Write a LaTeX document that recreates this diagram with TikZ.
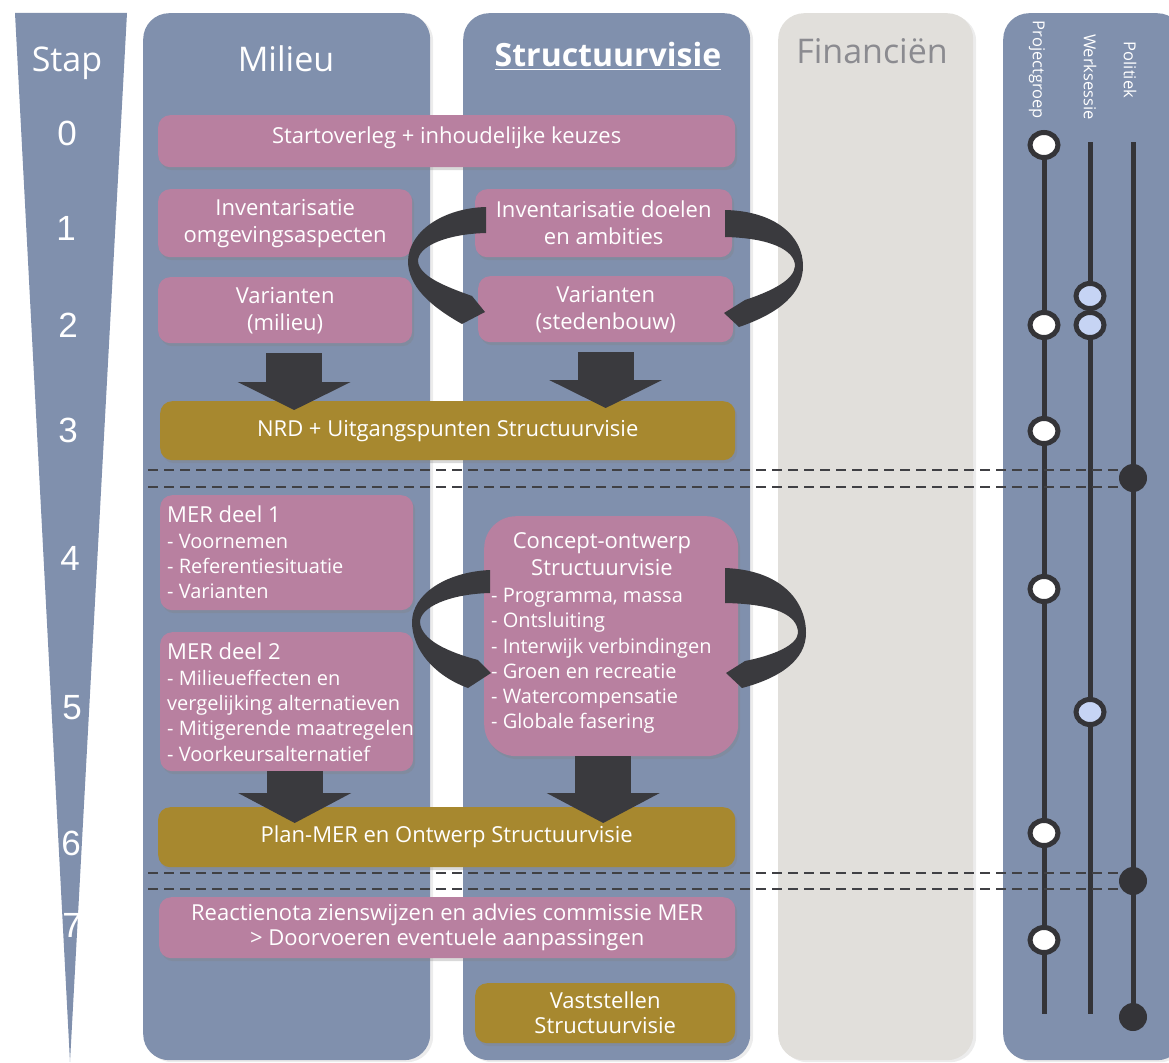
\documentclass[tikz,border=0pt]{standalone}
\usepackage{fontspec}
\setmainfont{Open Sans}
\newfontfamily\numfont{Liberation Sans}
\usetikzlibrary{shadows,shapes.geometric,arrows.meta,calc}
\definecolor{cBlue}{RGB}{128,144,173}
\definecolor{cFin}{RGB}{225,223,219}
\definecolor{cFinText}{RGB}{139,139,144}
\definecolor{cPink}{RGB}{184,128,160}
\definecolor{cGold}{RGB}{167,136,47}
\definecolor{cDark}{RGB}{58,58,62}
\definecolor{cLine}{RGB}{52,52,56}
\definecolor{cLightBlue}{RGB}{198,212,244}
\definecolor{cDash}{RGB}{64,64,68}
\tikzset{
  colbox/.style={fill=#1, rounded corners=26pt, inner sep=0pt, anchor=north west, minimum height=1047pt,
    drop shadow={shadow xshift=3pt, shadow yshift=-2pt, opacity=0.15}},
  coltitle/.style={text=white, font=\fontsize{34}{40}\selectfont, anchor=base, inner sep=0pt},
  stepnum/.style={text=white, font=\numfont\fontsize{35}{40}\selectfont, inner sep=0pt},
  abox/.style={rounded corners=12pt, inner sep=0pt, anchor=north west, text=white, align=center,
    font=\fontsize{22}{27}\selectfont, drop shadow={shadow xshift=2pt, shadow yshift=-3pt, opacity=0.3}},
  pbox/.style={abox, fill=cPink},
  gbox/.style={abox, fill=cGold},
  ltext/.style={text=white, inner sep=0pt, font=\fontsize{20}{25.3}\selectfont, align=left, anchor=north west},
  ctitle/.style={text=white, inner sep=0pt, font=\fontsize{22}{27}\selectfont, align=center, anchor=north},
  blockarrow/.style={draw=cDark, line width=56pt, -{Triangle[width=112pt,length=#1]}},
  ribbon/.style={fill=cDark},
  dashline/.style={draw=cDash, line width=2.2pt, dash pattern=on 10pt off 6pt},
  tline/.style={draw=cLine, line width=5pt},
  wdot/.style={ellipse, draw=cLine, line width=5pt, fill=white, minimum width=28pt, minimum height=25pt, inner sep=0pt},
  bdot/.style={wdot, fill=cLightBlue},
  pdot/.style={circle, fill=cLine, minimum size=28pt, inner sep=0pt},
  rlabel/.style={rotate=-90, text=white, font=\fontsize{16.5}{19}\selectfont, inner sep=0pt},
}
\begin{document}
\begin{tikzpicture}[x=1pt,y=-1pt]
\useasboundingbox (0,0) rectangle (1169,1062);
% step wedge
\fill[cBlue] (15,13) -- (127,13) -- (70,1062) -- cycle;
% columns
\node[colbox=cBlue, minimum width=287pt] (colmil) at (143,13) {};
\node[colbox=cBlue, minimum width=287pt] (colstr) at (463,13) {};
\node[colbox=cFin, minimum width=195pt] (colfin) at (778,13) {};
\node[colbox=cBlue, minimum width=180pt] (colpan) at (1003,13) {};
% titles
\node[coltitle] (tstap) at (67,72) {Stap};
\node[coltitle] (tmil) at (286,72) {Milieu};
\node[coltitle, font=\bfseries\fontsize{32}{40}\selectfont] (tstr) at (608,67) {\underline{Structuurvisie}};
\node[coltitle, text=cFinText] (tfin) at (872,64) {Financiën};
% step numbers
\foreach \n/\xx/\yy in {0/67/133, 1/66/228, 2/68/325, 3/68/430, 4/70/558, 5/72/708, 6/71/843, 7/72/925}
  \node[stepnum] (s\n) at (\xx,\yy) {\n};
% boxes
\node[pbox, minimum width=577pt, minimum height=52pt, text height=16pt, text depth=11pt] (start) at (158,115) {Startoverleg + inhoudelijke keuzes};
\node[pbox, minimum width=254pt, minimum height=68pt] (invomg) at (158,189) {Inventarisatie\\omgevingsaspecten};
\node[pbox, minimum width=257pt, minimum height=68pt] (invdoel) at (475,189) {Inventarisatie doelen\\en ambities};
\node[pbox, minimum width=254pt, minimum height=66pt] (varmil) at (158,277) {Varianten\\(milieu)};
\node[pbox, minimum width=255pt, minimum height=66pt] (varsted) at (478,276) {Varianten\\(stedenbouw)};
\node[gbox, minimum width=575pt, minimum height=59pt] (nrd) at (160,401) {NRD + Uitgangspunten Structuurvisie};
\node[pbox, minimum width=253pt, minimum height=115pt] (mer1) at (160,495) {};
\node[ltext] (mer1t) at (167,506) {{\fontsize{22}{25.3}\selectfont MER deel 1}\\- Voornemen\\- Referentiesituatie\\- Varianten};
\node[pbox, minimum width=254pt, minimum height=240pt, rounded corners=32pt] (concept) at (484,516) {};
\node[ctitle] (conct) at (602,532) {Concept-ontwerp\\Structuurvisie};
\node[ltext] (concl) at (491,588) {- Programma, massa\\- Ontsluiting\\- Interwijk verbindingen\\- Groen en recreatie\\- Watercompensatie\\- Globale fasering};
\node[pbox, minimum width=253pt, minimum height=139pt] (mer2) at (160,632) {};
\node[ltext] (mer2t) at (167,643) {{\fontsize{22}{25.3}\selectfont MER deel 2}\\- Milieueffecten en\\vergelijking alternatieven\\- Mitigerende maatregelen\\- Voorkeursalternatief};
\node[gbox, minimum width=577pt, minimum height=60pt] (planmer) at (158,807) {Plan-MER en Ontwerp Structuurvisie};
\node[pbox, minimum width=576pt, minimum height=61pt, font=\fontsize{22}{25}\selectfont] (reactie) at (159,897) {Reactienota zienswijzen en advies commissie MER\\> Doorvoeren eventuele aanpassingen};
\node[gbox, minimum width=260pt, minimum height=60pt, font=\fontsize{22}{25}\selectfont] (vast) at (475,983) {Vaststellen\\Structuurvisie};
% block arrows
\coordinate (a1s) at ([xshift=9pt,yshift=-10pt]varmil.south);
\coordinate (a2s) at ([yshift=-10pt]varsted.south);
\draw[blockarrow=28pt] (a1s) -- ($(a1s |- nrd.north)+(0,9)$);
\draw[blockarrow=28pt] (a2s) -- ($(a2s |- nrd.north)+(0,7)$);
\coordinate (a3s) at ([xshift=8pt]mer2.south);
\coordinate (a4s) at ([xshift=-8pt]concept.south);
\draw[blockarrow=30pt] (a3s) -- ($(a3s |- planmer.north)+(0,16)$);
\draw[blockarrow=30pt] (a4s) -- ($(a4s |- planmer.north)+(0,16)$);
% ribbons (cyclic arrows)
\fill[ribbon] (486,207) .. controls (445,208) and (409,230) .. (408,261) .. controls (408,286) and (430,306) .. (462,324) -- (485,312) -- (472,296) .. controls (444,286) and (419,276) .. (418,261) .. controls (418,246) and (447,234) .. (486,233) -- cycle;
\fill[ribbon] (725,210) .. controls (775,211) and (803,236) .. (803,266) .. controls (803,293) and (780,313) .. (739,327) -- (724,313) -- (745,300) .. controls (772,291) and (794,280) .. (795,266) .. controls (795,250) and (770,238) .. (725,237) -- cycle;
\fill[ribbon] (490,570) .. controls (445,572) and (412,595) .. (412,622) .. controls (412,650) and (435,676) .. (468,688) -- (491,673) -- (478,660) .. controls (448,652) and (421,640) .. (420,622) .. controls (420,607) and (450,594) .. (490,593) -- cycle;
\fill[ribbon] (725,568) .. controls (780,570) and (806,600) .. (806,633) .. controls (806,660) and (780,678) .. (742,688) -- (726,673) -- (745,661) .. controls (775,655) and (797,645) .. (798,633) .. controls (798,615) and (775,604) .. (725,603) -- cycle;
% right panel lines
\coordinate (pgtop) at (1044,145); \coordinate (pgbot) at (1044,1014);
\coordinate (wstop) at (1090,142); \coordinate (wsbot) at (1090,1014);
\coordinate (potop) at (1133,142); \coordinate (pobot) at (1133,1017);
\coordinate (pol1c) at (1133,478); \coordinate (pol2c) at (1133,881);
\draw[tline] (pgtop) -- (pgbot);
\draw[tline] (wstop) -- (wsbot);
\draw[tline] (potop) -- (pobot);
% dashed separators
\coordinate (dA) at (148,470); \coordinate (dB) at (148,487);
\coordinate (dC) at (148,873); \coordinate (dD) at (148,889);
\draw[dashline] (dA) -- (dA -| pol1c);
\draw[dashline] (dB) -- (dB -| pol1c);
\draw[dashline] (dC) -- (dC -| pol2c);
\draw[dashline] (dD) -- (dD -| pol2c);
% labels
\node[rlabel] (lpg) at (1037,70) {Projectgroep};
\node[rlabel] (lws) at (1090,77) {Werksessie};
\node[rlabel] (lpo) at (1130,70) {Politiek};
% dots
\foreach \yy [count=\i] in {145,325,431,589,833,940}
  \node[wdot] (pg\i) at (1044,\yy) {};
\foreach \yy [count=\i] in {296,325,712}
  \node[bdot] (ws\i) at (1090,\yy) {};
\node[pdot] (po1) at (pol1c) {};
\node[pdot] (po2) at (pol2c) {};
\node[pdot] (po3) at (pobot) {};
\end{tikzpicture}
\end{document}
